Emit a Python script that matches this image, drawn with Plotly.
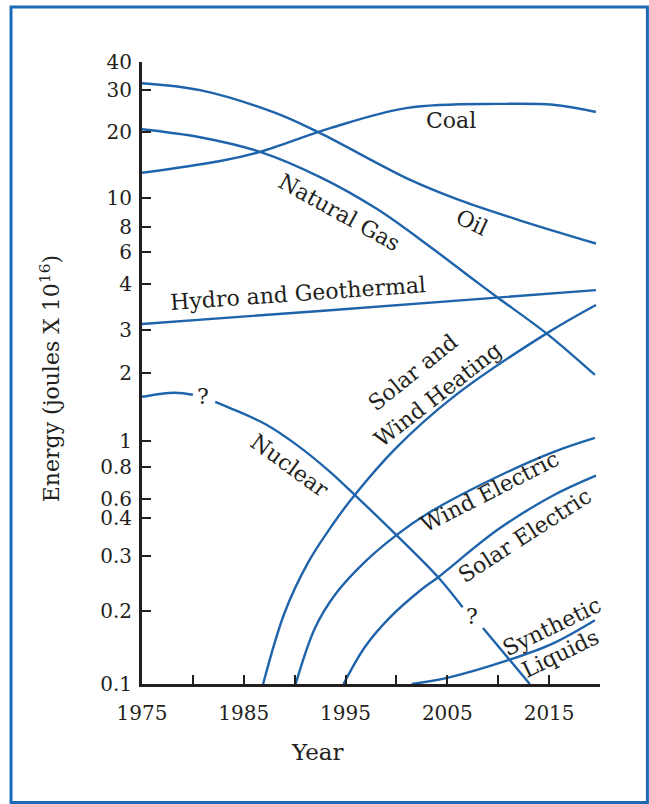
import numpy as np
import plotly.graph_objects as go

# ---- data (years, energy in joules x 10^16) ----
coal_year = [1975, 1982.7, 1986.6, 1993.5, 2001.1, 2010.2, 2015.4, 2019.6]
coal_val = [12.7, 14.2, 15.5, 19.4, 23.5, 24.4, 24.2, 22.6]

oil_year = [1975, 1980.7, 1988.1, 1992.5, 2001.3, 2006.2, 2012.1, 2019.6]
oil_val = [29.7, 27.8, 22.4, 18.5, 11.9, 9.8, 8.1, 6.5]

gas_year = [1975, 1980.7, 1986.6, 1992.5, 1998.1, 2003.6, 2007.5, 2010.0, 2014.8, 2019.5]
gas_val = [19.2, 17.8, 15.5, 12.2, 9.01, 6.17, 4.64, 3.88, 2.76, 1.87]

hydro_year = [1975, 1992.5, 2019.6]
hydro_val = [3.03, 3.43, 4.18]

nuclear_year = [1975, 1978.2, 1980.0, None, 1982.2, 1983.6, 1987.1, 1990.2, 1993.5,
                1995.9, 2000.0, 2004.1, 2006.5, None, 2008.5, 2013.1]
nuclear_val = [1.52, 1.58, 1.55, None, 1.45, 1.37, 1.175, 0.964, 0.745,
               0.60, 0.41, 0.275, 0.207, None, 0.170, 0.1]

solar_heat_year = [1986.9, 1989.0, 1991.3, 1993.7, 1995.9, 2000.0, 2005.6, 2014.8, 2019.6]
solar_heat_val = [0.1, 0.196, 0.315, 0.451, 0.60, 0.94, 1.52, 2.78, 3.63]

wind_el_year = [1990.1, 1992.0, 1994.0, 1996.9, 2000.0, 2003.3, 2008.9, 2015.4, 2019.5]
wind_el_val = [0.1, 0.170, 0.234, 0.318, 0.41, 0.51, 0.68, 0.90, 1.03]

solar_el_year = [1994.8, 1996.9, 1999.2, 2002.3, 2004.1, 2009.9, 2015.3, 2019.6]
solar_el_val = [0.1, 0.142, 0.185, 0.242, 0.275, 0.43, 0.594, 0.72]

synth_year = [2001.5, 2005.0, 2010.9, 2015.4, 2019.5]
synth_val = [0.1, 0.106, 0.125, 0.147, 0.183]

x_tick_vals = [1975, 1985, 1995, 2005, 2015]
x_tick_text = ["1975", "1985", "1995", "2005", "2015"]

y_tick_text = ["0.1", "0.2", "0.3", "0.4", "0.6", "0.8", "1", "2", "3", "4",
               "6", "8", "10", "20", "30", "40"]
y_tick_vals = [0.1, 0.2, 0.337, 0.482, 0.577, 0.782, 1.0, 1.905, 2.86, 4.43,
               5.99, 7.6, 10, 18.7, 27.8, 36.3]

# curve labels: (text, year, value, angle)
labels = [
    ("Coal", 2005.4, 20.9, 0),
    ("Oil", 2007.4, 7.96, 25),
    ("Natural Gas", 1994.4, 8.75, 29),
    ("Hydro and Geothermal", 1990.3, 4.03, -4),
    ("Nuclear", 1989.5, 0.796, 36),
    ("Solar and", 2001.6, 1.92, -39),
    ("Wind Heating", 2004.1, 1.55, -38),
    ("Wind Electric", 2009.2, 0.617, -27),
    ("Solar Electric", 2012.6, 0.41, -33),
    ("Synthetic", 2015.3, 0.172, -26),
    ("Liquids", 2016.1, 0.134, -26),
    ("?", 1981.0, 1.52, 0),
    ("?", 2007.4, 0.189, 0),
]

LINE = "#1f64ab"
INK = "#231f20"
FONT = "DejaVu Serif"

fig = go.Figure()
series = [
    (coal_year, coal_val), (oil_year, oil_val), (gas_year, gas_val),
    (hydro_year, hydro_val), (nuclear_year, nuclear_val),
    (solar_heat_year, solar_heat_val), (wind_el_year, wind_el_val),
    (solar_el_year, solar_el_val), (synth_year, synth_val),
]
for xs, ys in series:
    fig.add_trace(go.Scatter(x=xs, y=ys, mode="lines",
                             line=dict(color=LINE, width=2.4, shape="spline", smoothing=1.0),
                             connectgaps=False, showlegend=False, hoverinfo="skip"))

annotations = []
for text, yr, val, ang in labels:
    annotations.append(dict(x=yr, y=np.log10(val), xref="x", yref="y", text=text,
                            showarrow=False, textangle=ang,
                            xanchor="center", yanchor="middle",
                            font=dict(family=FONT, size=22, color=INK)))

annotations.append(dict(x=0.384, y=0, xref="paper", yref="paper", yshift=-68,
                        xanchor="center", yanchor="middle",
                        text="Year", showarrow=False,
                        font=dict(family=FONT, size=23, color=INK)))
annotations.append(dict(x=0, y=0.49, xref="paper", yref="paper", xshift=-92,
                        xanchor="center", yanchor="middle",
                        text="Energy (joules X 10<sup>16</sup>)", showarrow=False,
                        textangle=-90, font=dict(family=FONT, size=22, color=INK)))

fig.update_layout(
    width=649, height=804,
    margin=dict(l=142, r=49, t=62, b=120),
    paper_bgcolor="white", plot_bgcolor="white",
    annotations=annotations,
    shapes=[dict(type="rect", xref="paper", yref="paper",
                 x0=-0.286, x1=1.1035, y0=-0.1905, y1=1.0884,
                 line=dict(color="#1a6ab5", width=3))],
)
fig.update_xaxes(range=[1975, 2020], tickvals=x_tick_vals, ticktext=x_tick_text,
                 showline=True, linecolor=INK, linewidth=3, ticks="inside",
                 ticklen=9, tickwidth=2, tickcolor=INK, showgrid=False, zeroline=False,
                 minor=dict(ticks="inside", tick0=1975, dtick=5, ticklen=9,
                            tickwidth=2, tickcolor=INK, showgrid=False),
                 tickfont=dict(family=FONT, size=20, color=INK), ticklabelstandoff=9)
fig.update_yaxes(type="log", range=[-1, np.log10(36.3)], tickvals=y_tick_vals,
                 ticktext=y_tick_text, showline=True, linecolor=INK, linewidth=3,
                 ticks="inside", ticklen=9, tickwidth=2, tickcolor=INK,
                 showgrid=False, zeroline=False,
                 tickfont=dict(family=FONT, size=20, color=INK), ticklabelstandoff=3)

fig.write_html("out.html", config={"displayModeBar": False},
               post_script="document.body.style.margin='0';")
